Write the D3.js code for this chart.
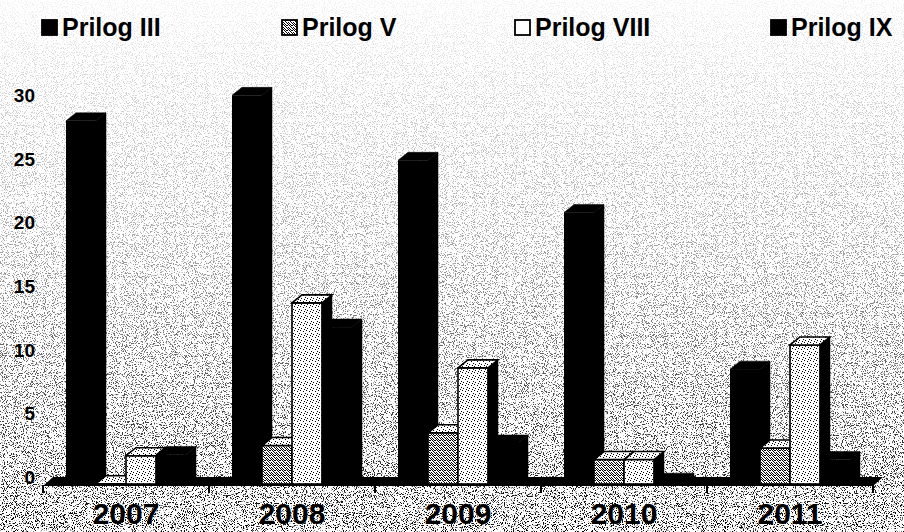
<!DOCTYPE html>
<html>
<head>
<meta charset="utf-8">
<script src="https://cdn.jsdelivr.net/npm/d3@7"></script>
<style>
  body { margin: 0; background: #fff; }
  svg { display: block; }
  text { font-family: "Liberation Sans", Arial, sans-serif; font-weight: bold; fill: #000; }
</style>
</head>
<body>
<div id="chart"></div>
<script>
// data
var years = ["2007", "2008", "2009", "2010", "2011"];
var seriesNames = ["Prilog III", "Prilog V", "Prilog VIII", "Prilog IX"];
var prilogIII = [28.6, 30.6, 25.5, 21.4, 9.1];
var prilogV = [0.1, 3.1, 4.1, 2.0, 2.9];
var prilogVIII = [2.3, 14.3, 9.2, 2.0, 11.0];
var prilogIX = [2.4, 12.4, 3.3, 0.3, 2.0];
var yTicks = [0, 5, 10, 15, 20, 25, 30];

var seriesValues = [prilogIII, prilogV, prilogVIII, prilogIX];

var width = 904, height = 532;
var DX = 10, DY = 8;        // 3d depth offset
var barW = 30;

var svg = d3.select('#chart').append('svg')
  .attr('width', width)
  .attr('height', height);

var defs = svg.append('defs');

// speckle of the scanned page
var f = defs.append('filter').attr('id', 'speck')
  .attr('x', 0).attr('y', 0).attr('width', '100%').attr('height', '100%');
f.append('feTurbulence').attr('type', 'fractalNoise').attr('baseFrequency', 0.9)
  .attr('numOctaves', 2).attr('seed', 7).attr('result', 't');
f.append('feColorMatrix').attr('type', 'matrix')
  .attr('values', '0 0 0 0 0  0 0 0 0 0  0 0 0 0 0  12 0 0 0 -6.6');

var grad = defs.append('linearGradient').attr('id', 'fade')
  .attr('x1', 0).attr('y1', 0).attr('x2', 0).attr('y2', 1);
grad.append('stop').attr('offset', '0%').attr('stop-color', '#fff').attr('stop-opacity', 0.05);
grad.append('stop').attr('offset', '45%').attr('stop-color', '#fff').attr('stop-opacity', 0.35);
grad.append('stop').attr('offset', '100%').attr('stop-color', '#fff').attr('stop-opacity', 1);
defs.append('mask').attr('id', 'fadeMask')
  .append('rect').attr('width', width).attr('height', height).attr('fill', 'url(#fade)');

// dotted fills for the light bars
function dotPattern(id, size, dots) {
  var p = defs.append('pattern').attr('id', id)
    .attr('width', size).attr('height', size)
    .attr('patternUnits', 'userSpaceOnUse');
  p.append('rect').attr('width', size).attr('height', size).attr('fill', '#fff');
  dots.forEach(function(d) {
    p.append('rect').attr('x', d[0]).attr('y', d[1]).attr('width', 1).attr('height', 1).attr('fill', '#000');
  });
}
dotPattern('patV', 5, [[0,0],[2,0],[3,1],[1,2],[4,2],[0,3],[2,3],[3,4],[1,4],[4,0]]);
dotPattern('patVIII', 6, [[0,0],[3,1],[5,3],[1,4],[4,5]]);

svg.append('rect').attr('width', width).attr('height', height).attr('fill', '#fff');
svg.append('rect').attr('width', width).attr('height', height)
  .attr('filter', 'url(#speck)').attr('mask', 'url(#fadeMask)');

// scales
var x0 = d3.scaleBand().domain(years).range([43, 873]);
var x1 = d3.scaleBand().domain(seriesNames)
  .range([(x0.bandwidth() - 4 * barW) / 2, (x0.bandwidth() + 4 * barW) / 2]);
var y = d3.scaleLinear().domain([0, 30]).range([477, 95]);

var baseFront = y(0) + DY;

// floor slab
var x0a = x0.range()[0], x0b = x0.range()[1];
svg.append('path')
  .attr('d', 'M' + x0a + ',' + (baseFront + 1) + 'L' + x0b + ',' + (baseFront + 1) +
    'L' + (x0b + DX) + ',' + (y(0)) + 'L' + (x0a + DX) + ',' + y(0) + 'Z')
  .attr('fill', '#000');

// ticks under the floor
svg.selectAll('.tick').data(years.concat(['end'])).enter().append('line')
  .attr('x1', function(d, i) { return x0a + i * x0.bandwidth(); })
  .attr('x2', function(d, i) { return x0a + i * x0.bandwidth(); })
  .attr('y1', baseFront).attr('y2', baseFront + 8)
  .attr('stroke', '#000').attr('stroke-width', 2);

var fills = ['#000', 'url(#patV)', 'url(#patVIII)', '#000'];

// bars, left to right so the later ones hide side faces
var bars = [];
years.forEach(function(yr, i) {
  seriesNames.forEach(function(s, j) {
    bars.push({ year: yr, series: s, idx: j, value: seriesValues[j][i] });
  });
});

var g = svg.selectAll('.bar').data(bars).enter().append('g').attr('class', 'bar');

g.each(function(d) {
  var el = d3.select(this);
  var xl = x0(d.year) + x1(d.series);
  var xr = xl + barW;
  var yf = y(d.value) + DY;
  var dark = d.idx === 0 || d.idx === 3;
  var sw = dark ? 0 : 1.6;
  // front
  el.append('rect')
    .attr('x', xl).attr('y', yf)
    .attr('width', barW).attr('height', Math.max(0, baseFront - 1 - yf))
    .attr('fill', fills[d.idx])
    .attr('stroke', '#000').attr('stroke-width', sw);
  // top
  el.append('path')
    .attr('d', 'M' + xl + ',' + yf + 'L' + (xl + DX) + ',' + (yf - DY) +
      'L' + (xr + DX) + ',' + (yf - DY) + 'L' + xr + ',' + yf + 'Z')
    .attr('fill', dark ? '#000' : 'url(#patVIII)')
    .attr('stroke', '#000').attr('stroke-width', dark ? 0.5 : 1.6);
  // side
  el.append('path')
    .attr('d', 'M' + xr + ',' + yf + 'L' + (xr + DX) + ',' + (yf - DY) +
      'L' + (xr + DX) + ',' + (baseFront - DY) + 'L' + xr + ',' + baseFront + 'Z')
    .attr('fill', '#000').attr('stroke', '#000').attr('stroke-width', 0.5);
});

// y labels
svg.selectAll('.ylab').data(yTicks).enter().append('text')
  .attr('x', 35).attr('y', function(d) { return y(d); })
  .attr('dy', '0.36em')
  .attr('text-anchor', 'end')
  .style('font-size', '19px')
  .text(function(d) { return d; });

// year labels
svg.selectAll('.xlab').data(years).enter().append('text')
  .attr('x', function(d) { return x0(d) + x0.bandwidth() / 2; })
  .attr('y', 524)
  .attr('text-anchor', 'middle')
  .style('font-size', '30px')
  .text(function(d) { return d; });

// legend
var legendX = [42, 282, 515, 771];
var legendFill = ['#000', 'url(#patV)', '#fff', '#000'];
var legend = svg.selectAll('.legend').data(seriesNames).enter().append('g')
  .attr('class', 'legend')
  .attr('transform', function(d, i) { return 'translate(' + legendX[i] + ',0)'; });

legend.append('rect')
  .attr('x', 0).attr('y', 20)
  .attr('width', 15).attr('height', 15)
  .attr('fill', function(d, i) { return legendFill[i]; })
  .attr('stroke', '#000').attr('stroke-width', 1.8);

legend.append('text')
  .attr('x', 20).attr('y', 36)
  .style('font-size', '25px')
  .text(function(d) { return d; });
</script>
</body>
</html>
